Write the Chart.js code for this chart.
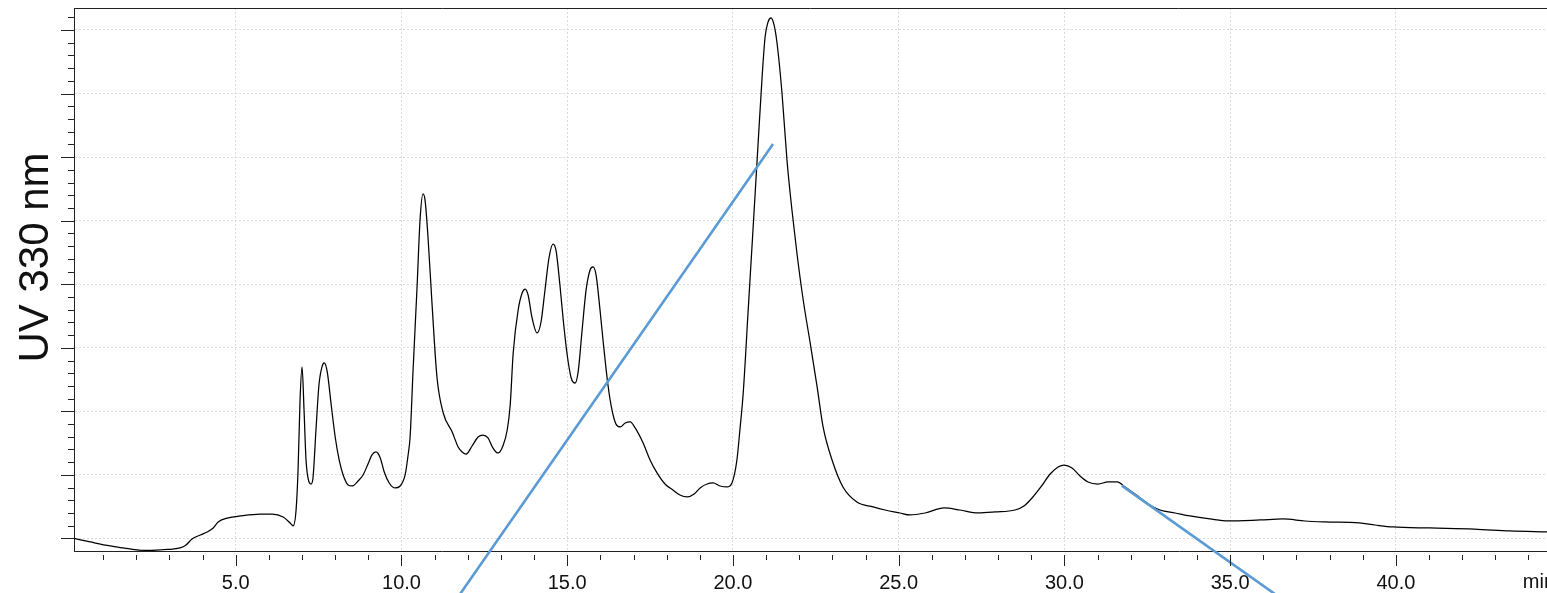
<!DOCTYPE html>
<html>
<head>
<meta charset="utf-8">
<script src="https://cdn.jsdelivr.net/npm/chart.js@4.4.1/dist/chart.umd.min.js"></script>
<style>
html, body { margin:0; padding:0; background:#fff; overflow:hidden; }
#wrap { width:1547px; height:593px; }
</style>
</head>
<body>
<div id="wrap"><canvas id="chromatogram" width="1547" height="593"></canvas></div>
<script>
// retention time (min) and UV 330 nm signal
var traceTimes = [
  0.12, 0.61, 1.21, 1.81, 2.33, 2.93, 3.32, 3.50, 3.68, 3.93,
  4.14, 4.32, 4.47, 4.77, 5.13, 5.74, 6.10, 6.43, 6.64, 6.73,
  6.82, 6.88, 6.94, 7.00, 7.06, 7.12, 7.21, 7.27, 7.33, 7.42,
  7.51, 7.61, 7.67, 7.76, 7.88, 8.00, 8.12, 8.24, 8.39, 8.51,
  8.69, 8.84, 8.99, 9.11, 9.23, 9.36, 9.48, 9.63, 9.81, 9.96,
  10.11, 10.20, 10.26, 10.35, 10.47, 10.56, 10.65, 10.71, 10.80, 10.92,
  11.07, 11.26, 11.53, 11.71, 11.83, 11.95, 12.13, 12.31, 12.46, 12.61,
  12.76, 12.91, 13.06, 13.19, 13.28, 13.37, 13.52, 13.64, 13.73, 13.82,
  13.94, 14.09, 14.21, 14.33, 14.45, 14.57, 14.66, 14.78, 14.88, 15.00,
  15.12, 15.24, 15.33, 15.45, 15.57, 15.69, 15.78, 15.87, 15.99, 16.08,
  16.23, 16.35, 16.47, 16.60, 16.75, 16.90, 17.05, 17.29, 17.50, 17.71,
  17.95, 18.19, 18.40, 18.62, 18.83, 19.01, 19.22, 19.40, 19.61, 19.82,
  19.97, 20.12, 20.21, 20.31, 20.46, 20.61, 20.76, 20.88, 20.97, 21.06,
  21.15, 21.24, 21.33, 21.48, 21.63, 21.78, 21.93, 22.12, 22.33, 22.54,
  22.72, 22.99, 23.32, 23.74, 24.23, 24.59, 25.04, 25.34, 25.80, 26.37,
  26.85, 27.39, 27.91, 28.51, 28.78, 29.05, 29.29, 29.57, 29.81, 29.99,
  30.23, 30.47, 30.71, 31.01, 31.32, 31.59, 31.83, 32.25, 32.58, 32.88,
  33.34, 33.79, 34.39, 34.94, 35.90, 36.59, 37.26, 37.86, 38.89, 39.37,
  39.91, 41.03, 42.36, 43.44, 44.56
];
var traceUV = [
  0, -0.55, -1.18, -1.65, -1.89, -1.73, -1.49, -1.02, -0.08, 0.55,
  1.02, 1.65, 2.60, 3.23, 3.54, 3.85, 3.85, 3.38, 2.44, 1.97,
  4.48, 10.78, 21.79, 26.98, 20.22, 12.35, 8.89, 8.57, 9.52, 17.07,
  24.15, 27.14, 27.61, 26.20, 21.00, 15.97, 12.35, 9.99, 8.42, 8.26,
  9.05, 9.99, 11.72, 13.14, 13.61, 12.67, 10.46, 8.73, 7.95, 8.26,
  9.99, 13.14, 15.97, 26.51, 39.57, 50.11, 54.20, 53.26, 47.44, 37.05,
  25.41, 19.74, 16.76, 14.40, 13.61, 13.29, 14.55, 15.97, 16.28, 15.81,
  14.24, 13.45, 14.55, 17.07, 21.00, 29.18, 35.95, 38.62, 39.25, 38.31,
  34.69, 32.33, 34.06, 39.10, 44.13, 46.33, 45.39, 39.88, 34.38, 28.87,
  25.25, 24.46, 26.20, 32.80, 39.10, 42.24, 42.72, 41.46, 35.95, 31.23,
  24.15, 20.22, 18.01, 17.54, 18.17, 18.33, 17.39, 15.02, 12.35, 10.31,
  8.57, 7.63, 6.84, 6.53, 7.00, 7.95, 8.57, 8.73, 8.26, 8.10,
  8.73, 12.35, 17.07, 22.89, 35.95, 49.01, 62.22, 72.61, 78.90, 81.26,
  81.89, 80.79, 77.96, 70.09, 59.55, 51.68, 44.92, 37.52, 30.76, 23.84,
  17.54, 12.35, 8.10, 5.74, 4.96, 4.48, 4.01, 3.70, 4.01, 4.80,
  4.48, 4.01, 4.17, 4.48, 5.11, 6.53, 8.10, 10.15, 11.25, 11.56,
  11.09, 9.83, 8.89, 8.57, 8.89, 8.89, 8.10, 6.53, 5.27, 4.48,
  4.01, 3.54, 3.07, 2.75, 2.91, 3.07, 2.75, 2.60, 2.44, 2.12,
  1.81, 1.65, 1.49, 1.18, 1.02
];

// gradient segments (same scale, runs below the axis), null = break
var gradTimes  = [11.0, 21.21, 26.5, 31.73, 37.5];
var gradValues = [-14.5, 62.07, null, 8.31, -12.98];

// axes
var xMajorTicks = [5, 10, 15, 20, 25, 30, 35, 40];
var xTickLabels = ['5.0', '10.0', '15.0', '20.0', '25.0', '30.0', '35.0', '40.0'];
var xUnitLabel = 'min';
var yTitle = 'UV 330 nm';
var yGridValues = [0, 10, 20, 30, 40, 50, 60, 70, 80];

var FONT = '"Liberation Sans", Arial, sans-serif';

function toPoints(xs, ys){
	var pts = [];
	for(var i=0; i<xs.length; i++){
		pts.push({x: xs[i], y: ys[i]});
	}
	return pts;
}

// tick marks (major/minor), top frame line, axis title and unit
var decorPlugin = {
	id: 'decor',
	afterDraw: function(chart){
		var ctx = chart.ctx;
		var area = chart.chartArea;
		var xs = chart.scales.x, ys = chart.scales.y;
		ctx.save();
		ctx.strokeStyle = '#222';
		ctx.lineWidth = 1;
		ctx.beginPath();
		ctx.moveTo(area.left, Math.round(area.top) + 0.5);
		ctx.lineTo(area.right, Math.round(area.top) + 0.5);
		// y ticks every 2, long at every 10
		for(var v=0; v<=82; v+=2){
			var py = Math.round(ys.getPixelForValue(v)) + 0.5;
			var len = (v % 10 === 0) ? 13 : 6;
			ctx.moveTo(area.left - len, py);
			ctx.lineTo(area.left, py);
		}
		// x ticks every 1 min, long at every 5
		for(var t=1; t<=44; t++){
			var px = Math.round(xs.getPixelForValue(t)) + 0.5;
			var l = (t % 5 === 0) ? 11 : 5;
			ctx.moveTo(px, area.bottom + 4);
			ctx.lineTo(px, area.bottom + 4 + l);
		}
		ctx.stroke();

		ctx.fillStyle = '#111';
		ctx.font = '20px ' + FONT;
		ctx.textAlign = 'left';
		ctx.textBaseline = 'alphabetic';
		ctx.fillText(xUnitLabel, xs.getPixelForValue(43.83), 588);

		ctx.translate(48, 257.5);
		ctx.rotate(-Math.PI/2);
		ctx.font = '42px ' + FONT;
		ctx.textAlign = 'center';
		ctx.fillText(yTitle, 0, 0);
		ctx.restore();
	}
};

var ctx = document.getElementById('chromatogram').getContext('2d');
var chart = new Chart(ctx, {
	type: 'line',
	data: {
		datasets: [
			{
				label: 'Gradient',
				data: toPoints(gradTimes, gradValues),
				borderColor: '#5b9bd5',
				borderWidth: 2.6,
				pointRadius: 0,
				spanGaps: false,
				clip: false,
				order: 0
			},
			{
				label: yTitle,
				data: toPoints(traceTimes, traceUV),
				borderColor: '#000',
				borderWidth: 1.25,
				pointRadius: 0,
				cubicInterpolationMode: 'monotone',
				order: 1
			}
		]
	},
	options: {
		responsive: false,
		animation: false,
		layout: { padding: { left: 74, top: 8, right: 0, bottom: 0 } },
		plugins: { legend: { display: false }, tooltip: { enabled: false } },
		scales: {
			x: {
				type: 'linear',
				min: 0.12,
				max: 44.56,
				afterBuildTicks: function(scale){
					scale.ticks = xMajorTicks.map(function(v){ return {value: v}; });
				},
				afterFit: function(scale){ scale.height = 42; },
				ticks: {
					callback: function(value, index){ return xTickLabels[index]; },
					padding: 20,
					color: '#111',
					font: { family: FONT, size: 20 },
					maxRotation: 0,
					autoSkip: false
				},
				grid: { color: '#dadada', drawTicks: false },
				border: { display: true, color: '#222', width: 1, dash: [2, 2] }
			},
			y: {
				min: -1.97,
				max: 83.46,
				afterBuildTicks: function(scale){
					scale.ticks = yGridValues.map(function(v){ return {value: v}; });
				},
				ticks: { display: false },
				grid: { color: '#dadada', drawTicks: false },
				border: { display: true, color: '#222', width: 1, dash: [2, 2] }
			}
		}
	},
	plugins: [decorPlugin]
});
</script>
</body>
</html>
